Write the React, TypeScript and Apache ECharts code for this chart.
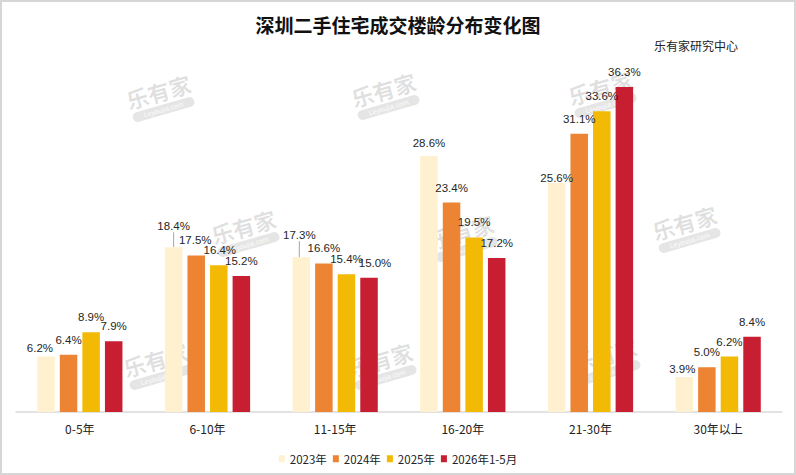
import React, { useEffect, useRef } from 'react';
import * as echarts from 'echarts';

const categories = ['0-5年', '6-10年', '11-15年', '16-20年', '21-30年', '30年以上'];
const seriesNames = ['2023年', '2024年', '2025年', '2026年1-5月'];
const values2023 = [6.2, 18.4, 17.3, 28.6, 25.6, 3.9];
const values2024 = [6.4, 17.5, 16.6, 23.4, 31.1, 5.0];
const values2025 = [8.9, 16.4, 15.4, 19.5, 33.6, 6.2];
const values2026 = [7.9, 15.2, 15.0, 17.2, 36.3, 8.4];

const colors = ['#FFF1CF', '#EC8434', '#F2BA05', '#C81E32'];

// 标签微调（原图中部分标签被手动挪动过）
const labelShift: Record<string, [number, number]> = {
  '0-0': [-6, 6],
  '0-1': [0, -6],
  '0-2': [-2, -7],
  '0-3': [0, 2],
  '0-4': [0, 10],
  '0-5': [-2, 7],
  '1-1': [-1, 0],
  '2-1': [1, 0],
  '3-2': [6, 0],
};
const withLeader = ['0-1', '0-2'];

// 水印位置
const watermarks = [
  [160, 97], [385, 95], [602, 93],
  [245, 232], [463, 237], [686, 228],
  [157, 365], [382, 365], [606, 360],
];

const App: React.FC = () => {
  const chartRef = useRef<HTMLDivElement>(null);

  useEffect(() => {
    if (!chartRef.current) return;
    const chart = echarts.init(chartRef.current, undefined, { renderer: 'svg' });
    const allValues = [values2023, values2024, values2025, values2026];

    const option = {
      animation: false,
      backgroundColor: '#fff',
      title: {
        text: '深圳二手住宅成交楼龄分布变化图',
        left: 'center',
        top: 10,
        textStyle: {
          fontFamily: 'Noto Sans CJK SC',
          fontSize: 19,
          fontWeight: 'bold',
          color: '#111',
        },
      },
      legend: {
        data: seriesNames,
        left: 'center',
        top: 448,
        itemWidth: 6,
        itemHeight: 7,
        itemGap: 6,
        icon: 'rect',
        textStyle: {
          fontFamily: 'Noto Sans CJK SC',
          fontSize: 11.5,
          color: '#222',
        },
      },
      grid: { left: 16, right: 14, top: 54, bottom: 63 },
      xAxis: {
        type: 'category',
        data: categories,
        axisLine: { lineStyle: { color: '#d9d9d9', width: 1.5 } },
        axisTick: { show: false },
        axisLabel: {
          margin: 10,
          fontFamily: 'Noto Sans CJK SC',
          fontSize: 12,
          color: '#222',
        },
      },
      yAxis: {
        type: 'value',
        min: 0,
        max: 40,
        show: false,
        splitLine: { show: false },
      },
      graphic: [
        {
          type: 'rect',
          shape: { x: 1, y: 1, width: 794, height: 473 },
          style: { fill: 'none', stroke: '#d6d6d6', lineWidth: 2 },
          silent: true,
        },
        {
          type: 'text',
          right: 58,
          top: 39,
          style: {
            text: '乐有家研究中心',
            font: '12px "Noto Sans CJK SC"',
            fill: '#222',
          },
        },
        ...watermarks.map(([x, y]) => ({
          type: 'group',
          x,
          y,
          rotation: 0.28,
          z: -1,
          silent: true,
          children: [
            {
              type: 'text',
              x: 0,
              y: -6,
              style: {
                text: '乐有家',
                font: 'bold 22px "Noto Sans CJK SC"',
                fill: 'rgba(0,0,0,0.12)',
                textAlign: 'center',
                textVerticalAlign: 'middle',
                verticalAlign: 'middle',
              },
            },
            {
              type: 'rect',
              shape: { x: -32, y: 8, width: 64, height: 10, r: 5 },
              style: { fill: 'rgba(0,0,0,0.1)' },
            },
            {
              type: 'text',
              x: 0,
              y: 13,
              style: {
                text: 'Leyoujia.com',
                font: '7px "Liberation Sans"',
                fill: 'rgba(255,255,255,0.95)',
                textAlign: 'center',
                textVerticalAlign: 'middle',
                verticalAlign: 'middle',
              },
            },
          ],
        })),
      ],
      series: allValues.map((vals, si) => ({
        name: seriesNames[si],
        type: 'bar',
        barWidth: 17.5,
        barGap: '29%',
        itemStyle: { color: colors[si] },
        label: {
          show: true,
          position: 'top',
          distance: 9,
          formatter: (p: any) => `${Number(p.value).toFixed(1)}%`,
          fontFamily: 'Liberation Sans',
          fontSize: 11.5,
          color: '#262626',
        },
        labelLine: { show: false },
        labelLayout: (p: any) => {
          const s = labelShift[`${p.seriesIndex}-${p.dataIndex}`];
          return s ? { dx: s[0], dy: s[1] } : {};
        },
        data: vals.map((v, di) => {
          const key = `${si}-${di}`;
          if (withLeader.includes(key)) {
            return {
              value: v,
              labelLine: { show: true, lineStyle: { color: '#a6a6a6', width: 1 } },
            };
          }
          return v;
        }),
      })),
    };

    chart.setOption(option as any);

    return () => {
      chart.dispose();
    };
  }, []);

  return (
    <div
      ref={chartRef}
      style={{
        position: 'absolute',
        left: 0,
        top: 0,
        width: '796px',
        height: '475px',
      }}
    />
  );
};

export default App;
